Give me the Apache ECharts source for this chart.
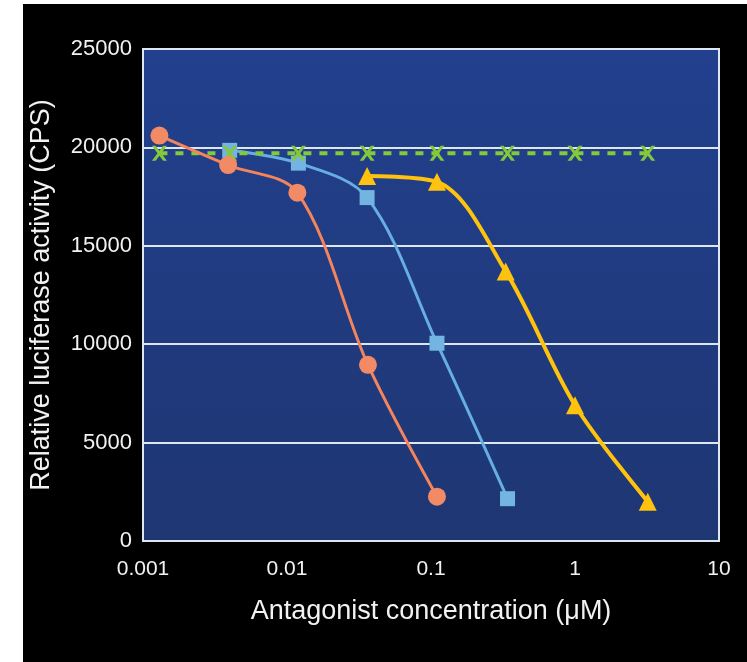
<!DOCTYPE html>
<html>
<head>
<meta charset="utf-8">
<script src="https://cdn.jsdelivr.net/npm/echarts@6/dist/echarts.min.js"></script>
<style>
  html, body { margin: 0; padding: 0; background: #ffffff; }
  #chart { position: absolute; left: 23px; top: 4px; width: 724px; height: 658px; }
</style>
</head>
<body>
<div id="chart"></div>
<script>
// concentrations (uM) and luciferase activity (CPS)
const orangeX = [0.0013, 0.0039, 0.0118, 0.0365, 0.11]
const orangeY = [20600, 19100, 17700, 8950, 2250]
const blueX = [0.004, 0.012, 0.036, 0.11, 0.34]
const blueY = [19850, 19200, 17450, 10050, 2150]
const yellowX = [0.036, 0.11, 0.33, 1.0, 3.2]
const yellowY = [18550, 18250, 13700, 6900, 2000]
const greenX = [0.0013, 0.004, 0.012, 0.036, 0.11, 0.34, 1.0, 3.2]
const greenY = [19700, 19700, 19700, 19700, 19700, 19700, 19700, 19700]
const xTicks = ['0.001', '0.01', '0.1', '1', '10']
const yTicks = [0, 5000, 10000, 15000, 20000, 25000]

const pairs = (xs, ys) => xs.map((x, i) => [x, ys[i]])
const crossPath = 'path://M0,0 L3,0 L6,4 L9,0 L12,0 L7.5,6 L12,12 L9,12 L6,8 L3,12 L0,12 L4.5,6 Z'
const font = 'Liberation Sans, Arial, sans-serif'

const chart = echarts.init(document.getElementById('chart'))
chart.setOption({
  backgroundColor: '#000000',
  animation: false,
  grid: {
    left: 120,
    top: 45,
    width: 576,
    height: 492,
    outerBoundsMode: 'none',
    containLabel: false,
    show: true,
    borderColor: '#dfe7f1',
    borderWidth: 2,
    backgroundColor: {
      type: 'linear', x: 0, y: 0, x2: 0, y2: 1,
      colorStops: [
        { offset: 0, color: '#22408e' },
        { offset: 1, color: '#1e3672' }
      ]
    }
  },
  xAxis: {
    type: 'log',
    logBase: 10,
    min: 0.001,
    max: 10,
    name: 'Antagonist concentration (\u03bcM)',
    nameLocation: 'middle',
    nameGap: 57,
    nameTextStyle: { color: '#f2f2f2', fontSize: 27, fontFamily: font },
    axisLine: { show: false },
    axisTick: { show: false },
    splitLine: { show: false },
    axisLabel: {
      color: '#f2f2f2',
      fontSize: 21,
      fontFamily: font,
      margin: 18,
      formatter: function (v) {
        const s = String(Number(v.toPrecision(3)))
        return xTicks.indexOf(s) >= 0 ? s : ''
      }
    }
  },
  yAxis: {
    type: 'value',
    min: yTicks[0],
    max: yTicks[yTicks.length - 1],
    interval: 5000,
    name: 'Relative luciferase activity (CPS)',
    nameLocation: 'middle',
    nameGap: 88,
    nameTextStyle: { color: '#f2f2f2', fontSize: 27, fontFamily: font },
    axisLine: { show: false },
    axisTick: { show: false },
    splitLine: { show: true, lineStyle: { color: '#dce7f3', width: 2 } },
    axisLabel: {
      color: '#f2f2f2',
      fontSize: 22,
      fontFamily: font,
      margin: 11,
      formatter: function (v) { return String(v) }
    }
  },
  series: [
    {
      type: 'line',
      data: pairs(blueX, blueY),
      smooth: 0.33,
      symbol: 'rect',
      symbolSize: 15,
      lineStyle: { color: '#67aee3', width: 3 },
      itemStyle: { color: '#74b4e2' }
    },
    {
      type: 'line',
      data: pairs(greenX, greenY),
      symbol: crossPath,
      symbolSize: 15,
      lineStyle: { color: '#84c93a', width: 4, type: [8, 8] },
      itemStyle: { color: '#84c93a' }
    },
    {
      type: 'line',
      data: pairs(orangeX, orangeY),
      smooth: 0.33,
      symbol: 'circle',
      symbolSize: 18,
      lineStyle: { color: '#f4845c', width: 3 },
      itemStyle: { color: '#f28a66' }
    },
    {
      type: 'line',
      data: pairs(yellowX, yellowY),
      smooth: 0.33,
      symbol: 'triangle',
      symbolSize: 18,
      lineStyle: { color: '#ffc20e', width: 4 },
      itemStyle: { color: '#ffc20e' }
    }
  ]
})
</script>
</body>
</html>
